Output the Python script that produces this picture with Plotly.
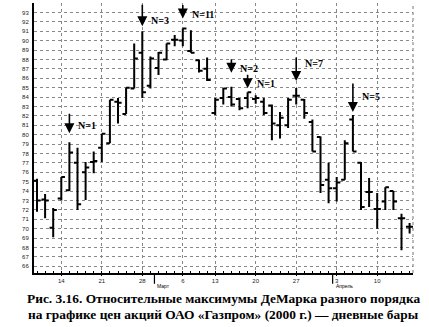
import plotly.graph_objects as go

# ---- data ----
day = list(range(47))
open_ = [75.1, 73.1, 70.1, 73.2, 74.1, 77.0, 76.0, 77.1, 78.6, 79.1,
         83.5, 82.2, 84.9, 88.7, 85.2, 87.1, 88.0, 90.1, 90.0, 88.9,
         87.9, 87.0, 82.3, 83.9, 84.0, 83.8, 83.9, 83.8, 83.5, 83.1,
         81.0, 81.0, 84.15, 83.7, 81.35, 79.75, 75.2, 74.3, 75.2, 81.6,
         77.0, 73.9, 72.1, 72.9, 74.0, 71.1, 70.2]
high = [75.3, 73.7, 72.2, 75.5, 79.2, 78.6, 77.1, 78.2, 80.1, 83.7,
        83.9, 85.0, 89.7, 91.0, 88.3, 88.8, 89.7, 90.6, 91.3, 91.1,
        88.0, 88.2, 83.9, 84.95, 85.1, 83.9, 84.5, 84.2, 83.9, 83.2,
        82.4, 83.9, 84.95, 83.8, 81.6, 79.8, 77.0, 75.5, 79.4, 82.1,
        77.1, 75.4, 73.8, 74.4, 74.0, 71.6, 70.6]
low = [71.8, 71.1, 69.1, 73.0, 74.0, 72.0, 73.05, 75.9, 77.1, 79.1,
       81.2, 82.2, 84.9, 83.9, 84.9, 86.35, 87.9, 89.4, 89.4, 88.7,
       86.6, 85.7, 82.1, 83.2, 83.0, 82.6, 82.8, 83.3, 82.1, 79.4,
       79.6, 80.7, 83.2, 81.7, 78.2, 73.8, 72.7, 72.9, 75.2, 78.2,
       72.0, 72.3, 70.0, 72.0, 72.0, 67.7, 69.5]
close = [73.0, 73.0, 72.0, 75.5, 78.1, 72.6, 76.5, 77.2, 80.1, 83.7,
         83.4, 85.0, 88.1, 84.5, 88.1, 88.7, 89.7, 90.1, 91.3, 88.7,
         86.8, 85.8, 83.7, 84.9, 83.2, 82.8, 84.5, 83.9, 82.3, 81.2,
         81.8, 83.7, 84.15, 82.3, 78.2, 74.65, 74.3, 74.9, 79.1, 78.2,
         72.3, 73.9, 72.1, 74.4, 72.9, 71.1, 70.2]

y_ticks = list(range(66, 94))
week_idx = [3, 8, 13, 18, 22, 27, 32, 37, 42]
week_labels = ["14", "21", "28", "6", "13", "20", "27", "3", "10"]
month_start = [14.5, 36.5]
month_names = ["Март", "Апрель"]

max_idx = [4, 13, 18, 24, 26, 32, 39]
max_labels = ["N=1", "N=3", "N=11", "N=2", "N=1", "N=7", "N=5"]

caption1 = "Рис. 3.16. Относительные максимумы ДеМарка разного порядка"
caption2 = "на графике цен акций ОАО «Газпром» (2000 г.) — дневные бары"

# ---- styling of arrows (pixels): gap above the high, shaft length, label shift ----
arrow_gap = [9, 5, 10, 14, 4, 7, 3]
arrow_len = [21, 23, 15, 15, 15, 25, 30]
label_dy = [17, 11, 14, 18, 9, 25, 18]

fig = go.Figure()
fig.add_trace(go.Ohlc(
    x=day, open=open_, high=high, low=low, close=close,
    increasing=dict(line=dict(color="black", width=2)),
    decreasing=dict(line=dict(color="black", width=2)),
    tickwidth=0.45, showlegend=False, hoverinfo="skip",
))

ann = []
for i, lab, g, L, dy in zip(max_idx, max_labels, arrow_gap, arrow_len, label_dy):
    ann.append(dict(x=i, y=high[i], xref="x", yref="y", text="",
                    showarrow=True, arrowhead=2, arrowsize=1.25, arrowwidth=1.6,
                    arrowcolor="black", ax=0, ay=-(g + L), standoff=g))
    ann.append(dict(x=i, y=high[i], xref="x", yref="y", text="<b>%s</b>" % lab,
                    showarrow=False, xanchor="left", yanchor="middle",
                    xshift=7, yshift=dy,
                    font=dict(family="Liberation Serif", size=10, color="black")))

for m, name in zip(month_start, month_names):
    ann.append(dict(x=m, y=0, xref="x", yref="paper", text=name, showarrow=False,
                    xanchor="left", yanchor="top", xshift=1, yshift=-8,
                    font=dict(family="Liberation Sans", size=5, color="black")))

ann.append(dict(x=0.5, y=-0.093, xref="paper", yref="paper", text="<b>%s</b>" % caption1,
                showarrow=False, xanchor="center", yanchor="middle",
                font=dict(family="Liberation Serif", size=13.4, color="black")))
ann.append(dict(x=0.5, y=-0.153, xref="paper", yref="paper", text="<b>%s</b>" % caption2,
                showarrow=False, xanchor="center", yanchor="middle",
                font=dict(family="Liberation Serif", size=13.4, color="black")))

shapes = [dict(type="line", xref="paper", yref="paper", x0=1, x1=1, y0=0, y1=1,
               line=dict(color="#777", width=1, dash="dot"))]
for m in month_start:
    shapes.append(dict(type="line", xref="x", yref="paper", x0=m, x1=m, y0=0, y1=-0.04,
                       line=dict(color="black", width=1.2)))

fig.update_layout(
    width=429, height=327,
    margin=dict(l=34, r=16, t=3, b=54),
    paper_bgcolor="white", plot_bgcolor="white",
    annotations=ann, shapes=shapes,
    xaxis=dict(range=[-0.37, 46.42], rangeslider=dict(visible=False),
               tickmode="array", tickvals=week_idx, ticktext=week_labels,
               showgrid=True, gridcolor="#888", griddash="dot", gridwidth=1,
               showline=True, linecolor="black", linewidth=2,
               ticks="outside", ticklen=1, tickcolor="black",
               ticklabelstandoff=0,
               minor=dict(dtick=1, tick0=0, ticks="inside", ticklen=2, tickcolor="black",
                          showgrid=False),
               tickfont=dict(family="Liberation Sans", size=6, color="#222"),
               zeroline=False, fixedrange=True),
    yaxis=dict(range=[65.29, 94.0], tickmode="array", tickvals=y_ticks,
               ticktext=[str(v) for v in y_ticks],
               showgrid=True, gridcolor="#888", griddash="dot", gridwidth=1,
               showline=True, linecolor="black", linewidth=2,
               ticks="", ticklabelstandoff=2,
               tickfont=dict(family="Liberation Sans", size=6, color="#222"),
               zeroline=False, fixedrange=True),
)

fig.write_html("out.html")
